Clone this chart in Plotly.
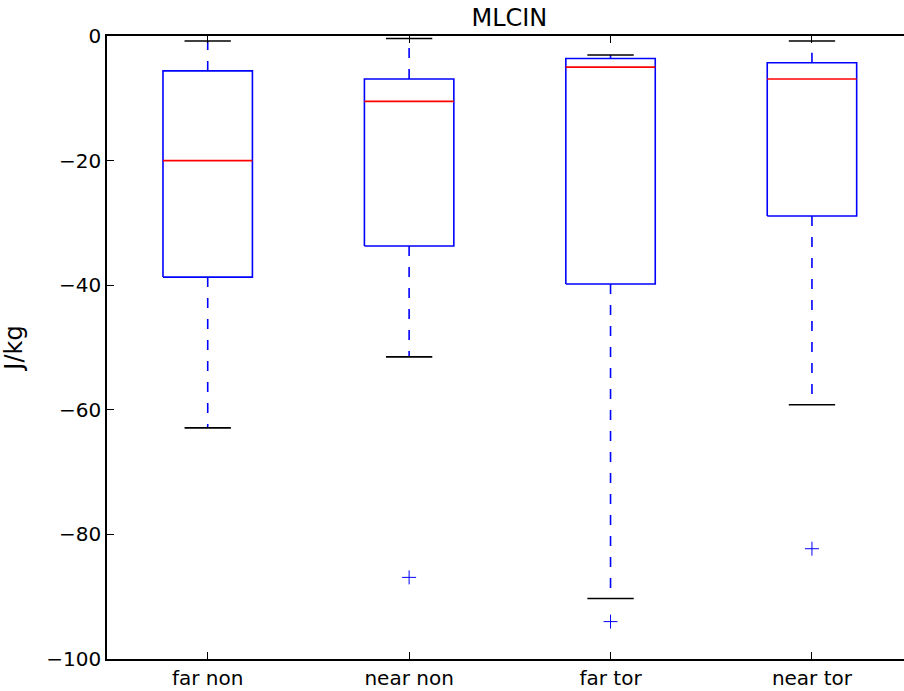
import plotly.graph_objects as go

categories = ["far non", "near non", "far tor", "near tor"]
upper_cap = [-0.8, -0.4, -3.05, -0.8]
q3 = [-5.6, -6.9, -3.6, -4.3]
median = [-20.0, -10.5, -5.0, -6.9]
q1 = [-38.7, -33.7, -39.8, -28.9]
lower_cap = [-62.9, -51.5, -90.3, -59.2]
outlier_cat = [2, 3, 4]
outlier_val = [-86.9, -94.0, -82.3]

box_half = 0.222
cap_half = 0.115

fig = go.Figure()
for i, cat in enumerate(categories):
    x = i + 1
    # box
    fig.add_trace(go.Scatter(
        x=[x - box_half, x + box_half, x + box_half, x - box_half, x - box_half],
        y=[q1[i], q1[i], q3[i], q3[i], q1[i]],
        mode="lines", line=dict(color="#0000ff", width=1.6),
        hoverinfo="skip", showlegend=False))
    # whiskers
    fig.add_trace(go.Scatter(
        x=[x, x], y=[q3[i], upper_cap[i]], mode="lines",
        line=dict(color="#0000ff", width=1.6, dash="10px,11px"),
        hoverinfo="skip", showlegend=False))
    fig.add_trace(go.Scatter(
        x=[x, x], y=[q1[i], lower_cap[i]], mode="lines",
        line=dict(color="#0000ff", width=1.6, dash="10px,11px"),
        hoverinfo="skip", showlegend=False))
    # caps
    for c in (upper_cap[i], lower_cap[i]):
        fig.add_trace(go.Scatter(
            x=[x - cap_half, x + cap_half], y=[c, c], mode="lines",
            line=dict(color="black", width=1.6),
            hoverinfo="skip", showlegend=False))
    # median
    fig.add_trace(go.Scatter(
        x=[x - box_half, x + box_half], y=[median[i], median[i]], mode="lines",
        line=dict(color="#ff0000", width=1.6),
        hoverinfo="skip", showlegend=False))

fig.add_trace(go.Scatter(
    x=outlier_cat, y=outlier_val, mode="markers",
    marker=dict(symbol="cross-thin", size=10, line=dict(color="#0000ff", width=1)),
    hoverinfo="skip", showlegend=False))

fig.update_layout(
    width=904, height=691,
    margin=dict(l=107, r=0, t=36, b=32),
    paper_bgcolor="white", plot_bgcolor="white",
    font=dict(family="DejaVu Sans", size=20, color="black"),
    title=dict(text="MLCIN", x=0.5635, xanchor="center", y=0.974, yanchor="middle",
               font=dict(size=24)),
    xaxis=dict(
        range=[0.5, 4.457], tickvals=[1, 2, 3, 4], ticktext=categories,
        showgrid=False, zeroline=False, showline=True, linecolor="black",
        linewidth=1.5, mirror="ticks", ticks="inside", ticklen=7,
        tickcolor="black", tickwidth=1),
    yaxis=dict(
        range=[-100, 0], tickvals=[0, -20, -40, -60, -80, -100],
        title=dict(text="J/kg", standoff=18),
        showgrid=False, zeroline=False, showline=True, linecolor="black",
        linewidth=1.5, ticks="inside", ticklen=7, tickcolor="black", tickwidth=1),
)

fig.write_html("out.html")
